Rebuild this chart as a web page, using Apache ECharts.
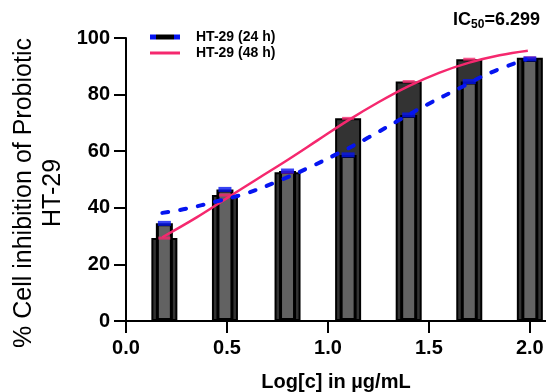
<!DOCTYPE html>
<html>
<head>
<meta charset="utf-8">
<script src="https://cdn.jsdelivr.net/npm/echarts@6/dist/echarts.min.js"></script>
<style>
  html, body { margin: 0; padding: 0; background: #fff; }
  #chart { width: 546px; height: 392px; }
</style>
</head>
<body>
<div id="chart"></div>
<script>
// log10 concentrations (twofold dilutions)
const logConc = [0.19, 0.49, 0.8, 1.1, 1.4, 1.7, 2.0];
const bars24h = [34.5, 46.5, 53.0, 58.7, 72.8, 84.6, 92.6];
const bars48h = [29.3, 44.5, 52.6, 71.6, 84.6, 92.5, 93.0];

// fitted curves
const fit24h = [[0.18, 38.2], [0.3, 39.7], [0.45, 42.3], [0.6, 45.2], [0.75, 49.3], [0.9, 54.0],
  [1.05, 59.2], [1.2, 64.8], [1.35, 70.9], [1.5, 76.8], [1.65, 82.2], [1.8, 87.6], [1.98, 92.4]];
const fit48h = [[0.18, 29.6], [0.35, 36.6], [0.5, 43.4], [0.65, 50.2], [0.8, 56.9], [0.95, 63.9],
  [1.1, 70.9], [1.25, 77.3], [1.4, 83.0], [1.55, 87.7], [1.7, 91.3], [1.85, 93.9], [1.99, 95.5]];

const xTicks = [0, 0.5, 1.0, 1.5, 2.0];
const yTitleLines = ["% Cell inhibition of Probiotic", "HT-29"];
const legendNames = ["HT-29 (24 h)", "HT-29 (48 h)"];
const ic50Text = "6.299";

const FONT = "Arial, 'Liberation Sans', sans-serif";
const BLUE = "#0514f0";
const PINK = "#f5286e";

const pairs = (xs, ys) => xs.map((x, i) => [x, ys[i]]);

const chart = echarts.init(document.getElementById("chart"), null, { renderer: "canvas" });

const xAxisBase = {
  type: "value",
  min: 0,
  max: 2.08,
  interval: 0.5,
};

chart.setOption({
  animation: false,
  backgroundColor: "#fff",
  grid: { left: 126, right: 0, top: 38, bottom: 71, outerBoundsMode: "none" },
  legend: {
    orient: "vertical",
    left: 150,
    top: 30,
    padding: 0,
    itemWidth: 30,
    itemHeight: 5,
    itemGap: 2,
    textStyle: { fontFamily: FONT, fontSize: 14, fontWeight: "bold", color: "#000", padding: [0, 0, 0, 11] },
    data: [
      {
        name: legendNames[0],
        icon: "rect",
        itemStyle: {
          borderWidth: 0,
          color: {
            type: "linear", x: 0, y: 0, x2: 1, y2: 0,
            colorStops: [
              { offset: 0, color: BLUE }, { offset: 0.2, color: BLUE },
              { offset: 0.2, color: "#000" }, { offset: 0.8, color: "#000" },
              { offset: 0.8, color: BLUE }, { offset: 1, color: BLUE },
            ],
          },
        },
      },
      {
        name: legendNames[1],
        icon: "path://M0 0H30V3H0Z",
        itemStyle: { color: PINK, borderWidth: 0 },
      },
    ],
  },
  xAxis: [
    Object.assign({}, xAxisBase, {
      axisLine: { show: true, onZero: false, lineStyle: { color: "#000", width: 2 } },
      axisTick: { show: true, length: 12, customValues: xTicks, lineStyle: { color: "#000", width: 2 } },
      axisLabel: {
        customValues: xTicks,
        formatter: (v) => v.toFixed(1),
        fontFamily: FONT, fontSize: 20, fontWeight: "bold", color: "#000", margin: 17,
      },
      splitLine: { show: false },
      name: "Log[c] in µg/mL",
      nameLocation: "middle",
      nameGap: 51,
      nameTextStyle: { fontFamily: FONT, fontSize: 20, fontWeight: "bold", color: "#000" },
    }),
    Object.assign({}, xAxisBase, { show: false }),
  ],
  yAxis: {
    type: "value",
    min: 0,
    max: 100,
    interval: 20,
    axisLine: { show: true, lineStyle: { color: "#000", width: 2 } },
    axisTick: { show: true, length: 12, lineStyle: { color: "#000", width: 2 } },
    axisLabel: { fontFamily: FONT, fontSize: 20, fontWeight: "bold", color: "#000", margin: 16 },
    splitLine: { show: false },
  },
  graphic: [
    {
      type: "text",
      x: 39,
      y: 193,
      rotation: Math.PI / 2,
      style: {
        text: yTitleLines.join("\n"),
        font: "25px " + FONT,
        fill: "#000",
        align: "center",
        verticalAlign: "middle",
        lineHeight: 29,
      },
    },
    {
      type: "text",
      x: 540,
      y: 9,
      style: {
        text: "{a|IC}{b|50}{a|=" + ic50Text + "}",
        align: "right",
        verticalAlign: "top",
        rich: {
          a: { fontFamily: FONT, fontSize: 18, fontWeight: "bold", fill: "#000", lineHeight: 22 },
          b: { fontFamily: FONT, fontSize: 12, fontWeight: "bold", fill: "#000", lineHeight: 14, padding: [10, 0, 0, 0] },
        },
      },
    },
  ],
  series: [
    {
      name: "48 h bars",
      type: "bar",
      xAxisIndex: 1,
      barWidth: 26,
      itemStyle: { color: "#333333", borderColor: "#000", borderWidth: 2 },
      data: pairs(logConc, bars48h),
      z: 2,
    },
    {
      name: "24 h bars",
      type: "bar",
      xAxisIndex: 0,
      barWidth: 17,
      itemStyle: { color: "#626262", borderColor: "#000", borderWidth: 3 },
      data: pairs(logConc, bars24h),
      z: 3,
    },
    {
      name: "48 h caps",
      type: "scatter",
      symbol: "rect",
      symbolSize: [12, 3],
      itemStyle: { color: PINK },
      data: pairs(logConc, bars48h),
      z: 4,
    },
    {
      name: "24 h caps",
      type: "scatter",
      symbol: "rect",
      symbolSize: [13, 5],
      itemStyle: { color: BLUE },
      data: pairs(logConc, bars24h),
      z: 4,
    },
    {
      name: legendNames[1],
      type: "line",
      smooth: 0.4,
      symbol: "none",
      lineStyle: { color: PINK, width: 2.5 },
      itemStyle: { color: PINK },
      data: fit48h,
      z: 5,
    },
    {
      name: legendNames[0],
      type: "line",
      smooth: 0.4,
      symbol: "none",
      lineStyle: { color: BLUE, width: 4, type: [6, 12], cap: "round" },
      itemStyle: { color: BLUE },
      data: fit24h,
      z: 6,
    },
  ],
});
</script>
</body>
</html>
